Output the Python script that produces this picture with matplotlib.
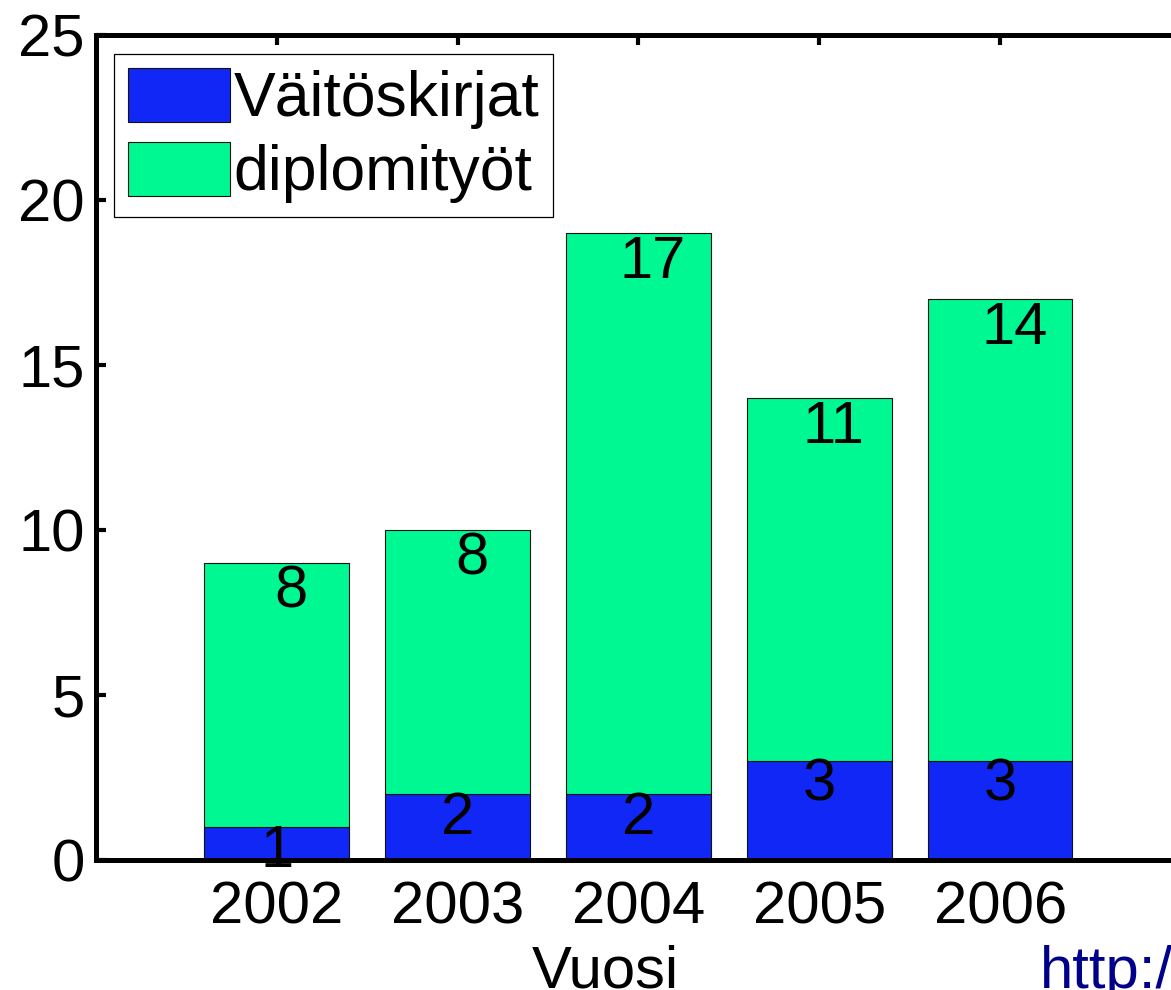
import matplotlib
matplotlib.use('Agg')
import matplotlib.pyplot as plt
import numpy as np

# data
years = [2002, 2003, 2004, 2005, 2006]
vaitoskirjat = [1, 2, 2, 3, 3]
diplomityot = [8, 8, 17, 11, 14]
series_names = ['Väitöskirjat', 'diplomityöt']
y_ticks = [0, 5, 10, 15, 20, 25]

plt.rcParams['font.family'] = ['Liberation Sans', 'DejaVu Sans']

W, H = 1171, 990
fig = plt.figure(figsize=(W / 100.0, H / 100.0), dpi=100)

# axes box in pixels: left spine 96, right spine 1181 (outside), top 35, bottom 860
left, right, top, bottom = 96, 1181, 35, 860
ax = fig.add_axes([left / W, (H - bottom) / H, (right - left) / W, (bottom - top) / H])

blue = '#1027F5'
green = '#00F892'
fs = 43
x = np.array(years)
totals = np.array(vaitoskirjat) + np.array(diplomityot)

ax.bar(x, vaitoskirjat, width=0.8, color=blue, edgecolor='#111111', linewidth=0.8,
       label=series_names[0])
ax.bar(x, diplomityot, width=0.8, bottom=vaitoskirjat, color=green, edgecolor='#111111',
       linewidth=0.8, label=series_names[1])

# value labels
for xi, v, t, d in zip(x, vaitoskirjat, totals, diplomityot):
    ax.text(xi, v + 0.1, str(v), ha='center', va='top', fontsize=fs, zorder=5,
            clip_on=False)
    ax.text(xi + 0.08, t - 0.05, str(d), ha='center', va='top', fontsize=fs, zorder=5)

ax.set_xlim(2001, 2007)
ax.set_ylim(0, 25)
ax.set_xticks(years)
ax.set_yticks(y_ticks)
ax.set_axisbelow(True)

ax.tick_params(axis='both', direction='in', length=7.5, width=3, labelsize=fs,
               top=True, right=True)
ax.tick_params(axis='x', pad=15)
ax.tick_params(axis='y', pad=8)

for s in ax.spines.values():
    s.set_linewidth(3.6)

ax.set_xlabel('Vuosi', fontsize=fs, va='baseline')
ax.xaxis.set_label_coords((605 - left) / (right - left), -(988 - bottom) / (bottom - top))

leg = ax.legend(loc='upper left', bbox_to_anchor=(114 / W, 1 - 54 / H),
                bbox_transform=fig.transFigure, borderaxespad=0, fontsize=45,
                handlelength=1.63, handleheight=0.95, handletextpad=0.06,
                labelspacing=0.2, borderpad=0.22, fancybox=False, framealpha=1)
leg.get_frame().set_edgecolor('black')
leg.get_frame().set_linewidth(0.9)

# cut-off source link at the lower right
fig.text(1040 / W, 2.0 / H, 'http://', color='#000088', fontsize=fs, ha='left',
         va='baseline')

fig.savefig('out.png', dpi=100)
